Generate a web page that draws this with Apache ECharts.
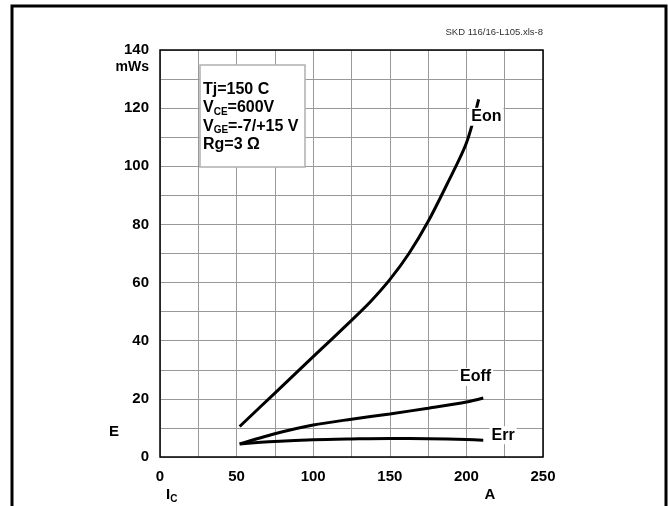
<!DOCTYPE html>
<html>
<head>
<meta charset="utf-8">
<script src="https://cdn.jsdelivr.net/npm/echarts@6/dist/echarts.min.js"></script>
<style>
  html, body { margin: 0; padding: 0; background: #fff; }
  #chart { width: 668px; height: 506px; }
</style>
</head>
<body>
<div id="chart"></div>
<script>
var FONT = 'Liberation Sans, Arial, sans-serif'

// collector current I_C (A) and energy (mWs)
var eonData = [[52, 10.5], [75, 22], [100, 34.5], [125, 47], [137.5, 53.5], [150, 61], [162.5, 70], [175, 81], [187.5, 94], [200, 108], [208, 123]]
var eoffData = [[52, 4.5], [75, 8], [100, 11], [125, 13], [150, 14.8], [175, 16.8], [200, 18.9], [211, 20.3]]
var errData = [[52, 4.5], [75, 5.3], [100, 5.9], [125, 6.2], [150, 6.4], [175, 6.3], [200, 6.0], [211, 5.8]]

var curveNames = ['Eon', 'Eoff', 'Err']
var labelCoords = [[213, 117], [206, 27.5], [224, 7.5]]

var chart = echarts.init(document.getElementById('chart'))

function curve (name, data, idx) {
  return {
    name: name,
    type: 'line',
    data: data,
    smooth: 0.3,
    showSymbol: false,
    symbol: 'none',
    lineStyle: { color: '#000', width: 3 },
    silent: true,
    animation: false,
    markPoint: {
      symbol: 'rect',
      symbolSize: 1,
      itemStyle: { color: 'rgba(0,0,0,0)' },
      data: [{ coord: labelCoords[idx] }],
      label: {
        show: true,
        position: 'inside',
        formatter: name,
        color: '#000',
        fontFamily: FONT,
        fontWeight: 'bold',
        fontSize: 16,
        backgroundColor: '#fff',
        padding: [1, 2]
      }
    }
  }
}

chart.setOption({
  backgroundColor: '#fff',
  animation: false,
  grid: {
    left: 160,
    top: 50,
    width: 383,
    height: 407,
    show: true,
    borderColor: '#000',
    borderWidth: 1.5,
    z: 3
  },
  xAxis: {
    type: 'value',
    min: 0,
    max: 250,
    interval: 25,
    axisLine: { show: false },
    axisTick: { show: false },
    splitLine: { show: true, lineStyle: { color: '#999', width: 1 } },
    axisLabel: {
      color: '#000',
      fontFamily: FONT,
      fontWeight: 'bold',
      fontSize: 15,
      margin: 12,
      formatter: function (v) { return v % 50 === 0 ? String(v) : '' }
    }
  },
  yAxis: {
    type: 'value',
    min: 0,
    max: 140,
    interval: 10,
    axisLine: { show: false },
    axisTick: { show: false },
    splitLine: { show: true, lineStyle: { color: '#999', width: 1 } },
    axisLabel: {
      color: '#000',
      fontFamily: FONT,
      fontWeight: 'bold',
      fontSize: 15,
      margin: 11,
      formatter: function (v) { return v % 20 === 0 ? String(v) : '' }
    }
  },
  series: [
    curve(curveNames[0], eonData, 0),
    curve(curveNames[1], eoffData, 1),
    curve(curveNames[2], errData, 2)
  ],
  graphic: [
    {
      type: 'rect',
      shape: { x: 12, y: 6, width: 654, height: 520 },
      style: { fill: null, stroke: '#000', lineWidth: 3 },
      silent: true
    },
    {
      type: 'text',
      x: 543,
      y: 32,
      style: { text: 'SKD 116/16-L105.xls-8', fill: '#333', font: '9.5px ' + FONT, align: 'right', verticalAlign: 'middle' }
    },
    {
      type: 'text',
      x: 149,
      y: 67,
      style: { text: 'mWs', fill: '#000', font: 'bold 14px ' + FONT, align: 'right', verticalAlign: 'middle' }
    },
    {
      type: 'text',
      x: 114,
      y: 432,
      style: { text: 'E', fill: '#000', font: 'bold 15px ' + FONT, align: 'center', verticalAlign: 'middle' }
    },
    {
      type: 'text',
      x: 166,
      y: 495,
      style: {
        text: '{m|I}{s|C}',
        verticalAlign: 'middle',
        rich: {
          m: { fontFamily: FONT, fontWeight: 'bold', fontSize: 15, lineHeight: 18, fill: '#000' },
          s: { fontFamily: FONT, fontWeight: 'bold', fontSize: 10, lineHeight: 10, verticalAlign: 'bottom', fill: '#000' }
        }
      }
    },
    {
      type: 'text',
      x: 490,
      y: 495,
      style: { text: 'A', fill: '#000', font: 'bold 15px ' + FONT, align: 'center', verticalAlign: 'middle' }
    },
    {
      type: 'rect',
      z: 10,
      shape: { x: 200, y: 65, width: 105, height: 102 },
      style: { fill: '#fff', stroke: '#b0b0b0', lineWidth: 1.5 }
    },
    {
      type: 'text',
      z: 11,
      x: 203,
      y: 80,
      style: {
        text: '{m|Tj=150 C}\n{m|V}{s|CE}{m|=600V}\n{m|V}{s|GE}{m|=-7/+15 V}\n{m|Rg=3 Ω}',
        rich: {
          m: { fontFamily: FONT, fontWeight: 'bold', fontSize: 16, lineHeight: 18.5, fill: '#000' },
          s: { fontFamily: FONT, fontWeight: 'bold', fontSize: 10, lineHeight: 9, verticalAlign: 'bottom', fill: '#000' }
        }
      }
    }
  ]
})
</script>
</body>
</html>
